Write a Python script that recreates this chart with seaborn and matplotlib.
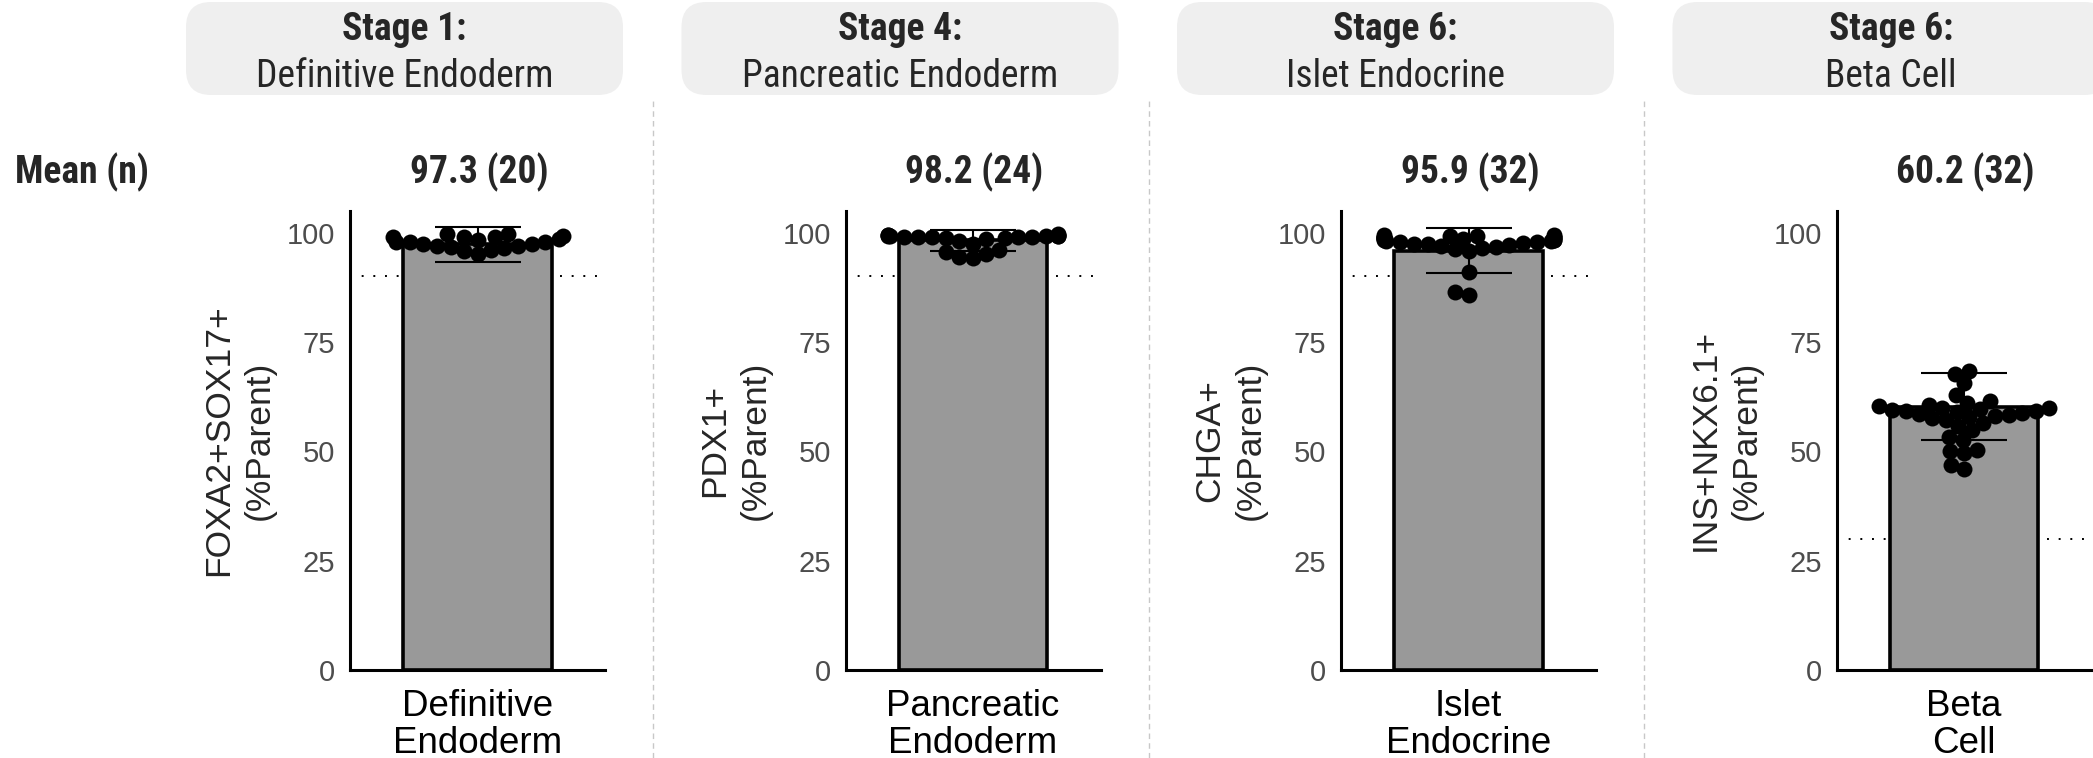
import numpy as np
import pandas as pd
import matplotlib
matplotlib.use("Agg")
import matplotlib.pyplot as plt
from matplotlib.patches import FancyBboxPatch
from matplotlib.lines import Line2D
import seaborn as sns

# ---- data ----
stage_titles = ["Stage 1:", "Stage 4:", "Stage 6:", "Stage 6:"]
stage_names = ["Definitive Endoderm", "Pancreatic Endoderm", "Islet Endocrine", "Beta Cell"]
x_labels = ["Definitive\nEndoderm", "Pancreatic\nEndoderm", "Islet\nEndocrine", "Beta\nCell"]
markers = ["FOXA2+SOX17+", "PDX1+", "CHGA+", "INS+NKX6.1+"]
means = [97.3, 98.2, 95.9, 60.2]
n_reps = [20, 24, 32, 32]
sds = [4.0, 2.4, 5.1, 7.7]
thresholds = [90, 90, 90, 30]

de_points = [98.9, 97.8, 99.7, 98.2, 97.0, 95.1, 97.5, 96.8, 97.0, 99.3,
             97.8, 98.9, 99.7, 96.0, 97.3, 98.5, 96.5, 99.0, 97.9, 95.8]
pe_points = [99.3, 99.3, 99.2, 99.4, 99.0, 98.8, 99.5, 99.6, 99.1, 98.9,
             99.2, 98.6, 98.0, 97.5, 96.0, 95.5, 95.0, 94.5, 94.2, 99.4,
             99.3, 99.1, 98.7, 99.0]
ie_points = [98.8, 98.8, 98.0, 97.5, 99.2, 99.5, 98.6, 97.8, 96.9, 98.3,
             99.0, 99.3, 97.2, 96.5, 98.1, 98.9, 99.1, 97.6, 98.4, 99.4,
             96.8, 97.9, 98.5, 95.8, 97.3, 99.0, 98.2, 91.0, 86.5, 85.8,
             96.2, 98.7]
bc_points = [68.3, 67.7, 65.5, 62.8, 61.6, 60.4, 60.0, 59.6, 59.4, 59.2,
             59.0, 58.8, 58.5, 58.0, 57.8, 57.5, 57.1, 56.5, 55.8, 54.8,
             53.3, 52.5, 50.4, 50.0, 49.5, 46.8, 46.0, 59.8, 60.6, 58.2,
             61.0, 59.1]
all_points = [de_points, pe_points, ie_points, bc_points]

# ---- style ----
sns.set_style("white")
plt.rcParams['font.family'] = ['Liberation Sans', 'DejaVu Sans']
cond = ['Roboto Condensed', 'Liberation Sans Narrow', 'Roboto', 'DejaVu Sans']

W, H = 2093, 758
fig = plt.figure(figsize=(W / 100, H / 100), dpi=100)

swarms = []
step = 495.5
for i in range(4):
    dx = step * i

    # facet strip
    strip = FancyBboxPatch(((186 + dx) / W, 1 - 95 / H), 437 / W, 93 / H,
                           boxstyle="round,pad=0,rounding_size=0.012",
                           transform=fig.transFigure, facecolor="#efefef",
                           edgecolor="none", mutation_aspect=W / H)
    fig.patches.append(strip)
    cx = (404.5 + dx) / W
    fig.text(cx, 1 - 40 / H, stage_titles[i], ha="center", va="baseline",
             fontsize=27, fontweight="bold", family=cond)
    fig.text(cx, 1 - 87 / H, stage_names[i], ha="center", va="baseline",
             fontsize=27, family=cond)

    # separator
    if i < 3:
        xs = (653 + dx) / W
        fig.add_artist(Line2D([xs, xs], [0, 1 - 97 / H], transform=fig.transFigure,
                              color="#c8c8c8", lw=1, ls=(0, (4, 3))))

    ax = fig.add_axes([(350 + dx) / W, 88 / H, 255 / W, (670 - 210.7) / H])
    df = pd.DataFrame({"stage": x_labels[i], "value": all_points[i]})

    ax.axhline(thresholds[i], color="black", lw=1.4, ls=(0, (1, 5)), zorder=1)
    sns.barplot(x=[x_labels[i]], y=[means[i]], ax=ax, color="#999999",
                width=0.7, edgecolor="black", linewidth=2.6, saturation=1,
                errorbar=None, zorder=2)
    ax.errorbar(0, means[i], yerr=sds[i], color="black", elinewidth=1.5,
                capsize=31, capthick=1.5, zorder=3)
    sns.swarmplot(data=df, x="stage", y="value", ax=ax, color="black",
                  size=9.5, zorder=4, warn_thresh=1)
    swarms.append(ax.collections[-1])

    ax.set_xlim(-0.6, 0.6)
    ax.set_ylim(0, 105)
    ax.set_yticks([0, 25, 50, 75, 100])
    ax.set_xlabel("")
    ax.set_ylabel(markers[i] + "\n(%Parent)", fontsize=25.5, linespacing=1.3)
    ax.yaxis.set_label_coords(-0.29, 0.5)
    for side in ["top", "right"]:
        ax.spines[side].set_visible(False)
    for side in ["left", "bottom"]:
        ax.spines[side].set_linewidth(2.2)
        ax.spines[side].set_color("black")
    ax.tick_params(axis="y", length=6, width=1.6, color="#333333",
                   labelcolor="#4d4d4d", labelsize=21, pad=4.5)
    ax.tick_params(axis="x", length=6, width=1.6, color="#333333",
                   labelcolor="black", labelsize=26.5, pad=8)
    for lab in ax.get_xticklabels():
        lab.set_linespacing(1.05)

    # mean (n) annotation
    fig.text((479 + dx) / W, 1 - 183 / H, f"{means[i]:.1f} ({n_reps[i]})",
             ha="center", va="baseline", fontsize=27, fontweight="bold",
             family=cond)

fig.text(15 / W, 1 - 183 / H, "Mean (n)", ha="left", va="baseline",
         fontsize=27, fontweight="bold", family=cond)

# lay the swarm out with smaller dots, then enlarge them so they overlap a bit
fig.canvas.draw()
for coll in swarms:
    del coll.draw
    coll.set_sizes([11.5 ** 2])

fig.savefig("out.png", dpi=100)
